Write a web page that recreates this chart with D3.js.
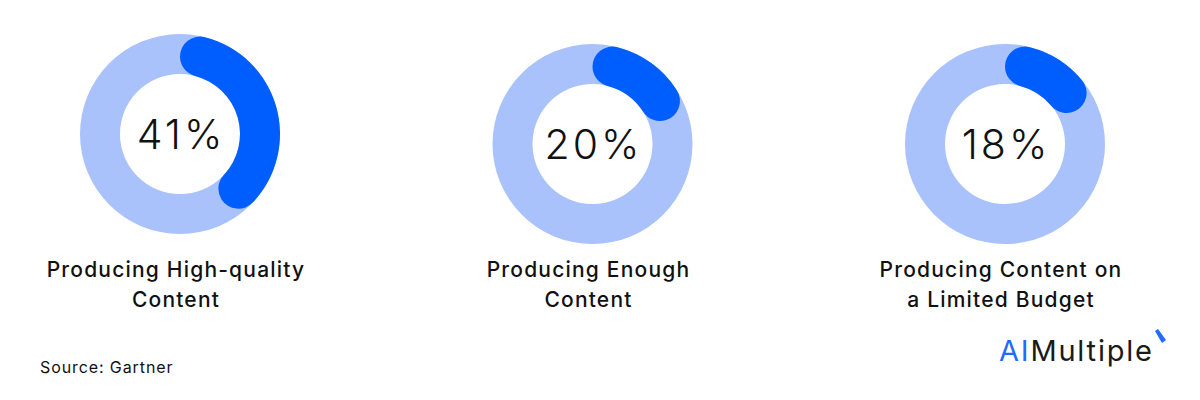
<!DOCTYPE html>
<html>
<head>
<meta charset="utf-8">
<script src="https://cdn.jsdelivr.net/npm/d3@7"></script>
<style>
  html, body { margin: 0; padding: 0; background: #fff; }
  svg { display: block; }
</style>
</head>
<body>
<svg id="chart" width="1200" height="400"></svg>
<script>
// ---- data ----
const categories = ["Producing High-quality Content", "Producing Enough Content", "Producing Content on a Limited Budget"];
const labelLines = [["Producing High-quality", "Content"], ["Producing Enough", "Content"], ["Producing Content on", "a Limited Budget"]];
const values = [41, 20, 18];
const source = "Source: Gartner";

// ---- layout ----
const W = 1200, H = 400;
const outerR = 100, innerR = 60;
const centerYs = [134, 144, 144];
const FONT = "Inter, 'Open Sans', sans-serif";
const svg = d3.select("#chart");

const x = d3.scalePoint().domain(categories).range([180, 1005]);
const angle = d3.scaleLinear().domain([0, 100]).range([0, 2 * Math.PI]);

const arcBg = d3.arc().innerRadius(innerR).outerRadius(outerR).startAngle(0).endAngle(2 * Math.PI);
const arcFg = d3.arc().innerRadius(innerR).outerRadius(outerR).cornerRadius((outerR - innerR) / 2);

const g = svg.selectAll("g.donut")
  .data(categories.map((c, i) => ({ c, v: values[i], cy: centerYs[i] })))
  .join("g")
  .attr("class", "donut")
  .attr("transform", d => `translate(${x(d.c)},${d.cy})`);

g.append("path").attr("d", arcBg()).attr("fill", "#a9c2fb");
g.append("path")
  .attr("d", d => arcFg({ startAngle: 0, endAngle: angle(d.v) }))
  .attr("fill", "#005eff");

g.append("text")
  .attr("text-anchor", "middle")
  .attr("x", 1)
  .attr("dy", "0.36em")
  .attr("font-family", FONT)
  .attr("font-size", 41)
  .attr("font-weight", 300)
  .attr("letter-spacing", 3)
  .attr("fill", "#111")
  .text(d => d.v + "%");

// labels
const lab = svg.selectAll("text.label")
  .data(categories.map((c, i) => ({ c, lines: labelLines[i] })))
  .join("text")
  .attr("class", "label")
  .attr("text-anchor", "middle")
  .attr("font-family", FONT)
  .attr("font-size", 21)
  .attr("font-weight", 500)
  .attr("letter-spacing", 1.2)
  .attr("fill", "#111");
lab.selectAll("tspan")
  .data(d => d.lines.map(l => ({ l, xx: x(d.c) })))
  .join("tspan")
  .attr("x", d => d.xx - 4)
  .attr("y", (d, i) => 277 + i * 30)
  .text(d => d.l);

// source
svg.append("text")
  .attr("x", 40).attr("y", 373)
  .attr("font-family", FONT)
  .attr("font-size", 16)
  .attr("letter-spacing", 0.9)
  .attr("fill", "#111")
  .text(source);

// logo
const logo = svg.append("text")
  .attr("x", 999).attr("y", 361)
  .attr("font-family", FONT)
  .attr("font-size", 29)
  .attr("letter-spacing", 1.8)
  .attr("font-weight", 400);
logo.append("tspan").attr("fill", "#1f6bff").text("AI");
logo.append("tspan").attr("fill", "#1a1a1a").text("Multiple");
svg.append("path")
  .attr("d", "M1155,331 L1158,329 L1166,340 L1162,343 Z")
  .attr("fill", "#1f6bff");
</script>
</body>
</html>
